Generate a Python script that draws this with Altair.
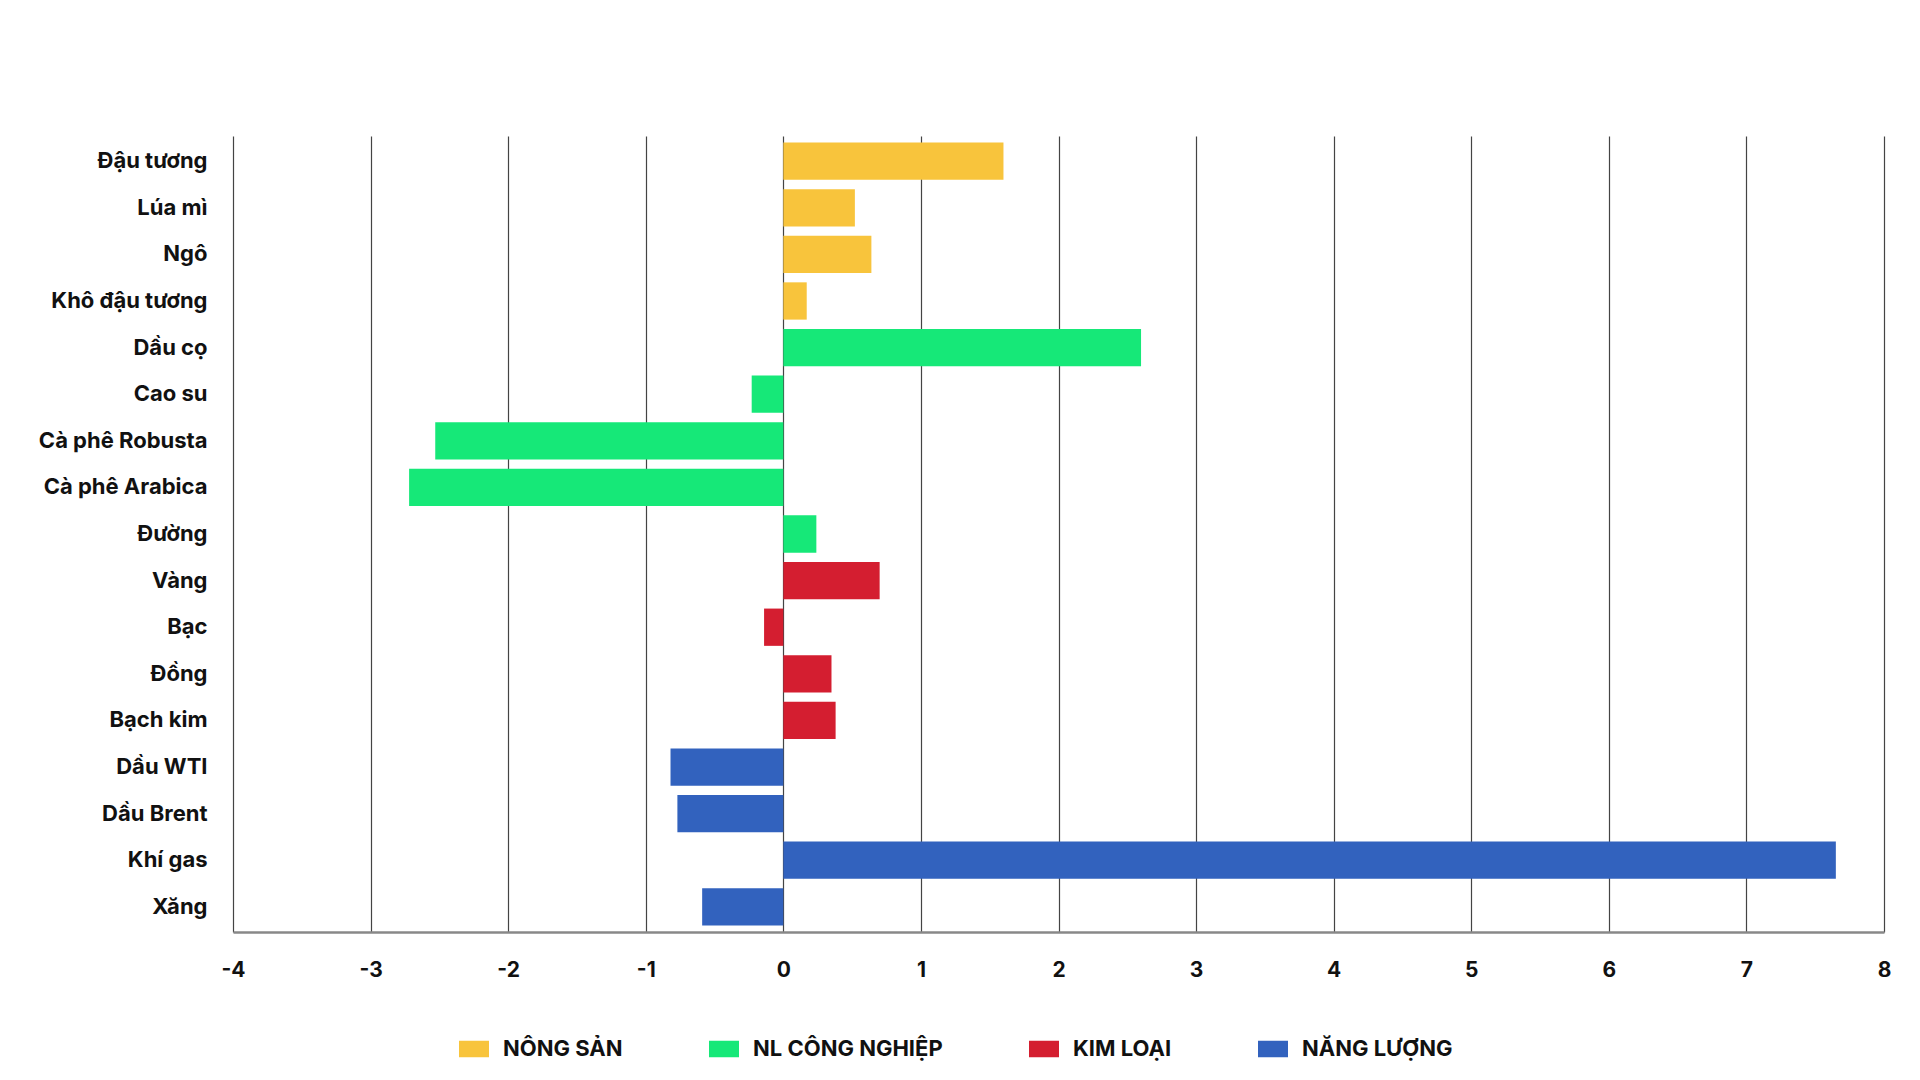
import altair as alt
import pandas as pd

categories = ["Đậu tương", "Lúa mì", "Ngô", "Khô đậu tương", "Dầu cọ", "Cao su",
              "Cà phê Robusta", "Cà phê Arabica", "Đường", "Vàng", "Bạc", "Đồng",
              "Bạch kim", "Dầu WTI", "Dầu Brent", "Khí gas", "Xăng"]
values = [1.60, 0.52, 0.64, 0.17, 2.60, -0.23, -2.53, -2.72, 0.24, 0.70, -0.14,
          0.35, 0.38, -0.82, -0.77, 7.65, -0.59]
groups = ["NÔNG SẢN"] * 4 + ["NL CÔNG NGHIỆP"] * 5 + ["KIM LOẠI"] * 4 + ["NĂNG LƯỢNG"] * 4
group_order = ["NÔNG SẢN", "NL CÔNG NGHIỆP", "KIM LOẠI", "NĂNG LƯỢNG"]
group_colors = ["#F8C43C", "#16E878", "#D41E30", "#3262BE"]
x_ticks = [-4, -3, -2, -1, 0, 1, 2, 3, 4, 5, 6, 7, 8]

df = pd.DataFrame({"cat": categories, "val": values, "grp": groups})

FONT = "Inter"

chart = alt.Chart(df).mark_bar().encode(
    y=alt.Y("cat:N", sort=categories, title=None,
            scale=alt.Scale(paddingInner=0.2, paddingOuter=0.14),
            axis=alt.Axis(labelFont=FONT, labelFontSize=22, labelFontWeight="bold",
                          labelColor="#111", labelPadding=26, ticks=False, domain=False,
                          grid=False, labelLimit=400)),
    x=alt.X("val:Q", title=None,
            scale=alt.Scale(domain=[-4, 8], nice=False),
            axis=alt.Axis(values=x_ticks, labelFont=FONT, labelFontSize=21,
                          labelFontWeight="bold", labelColor="#111", labelPadding=27,
                          labelExpr="toString(datum.value)", labelFlush=False,
                          ticks=False, grid=True, gridColor="#444", gridWidth=1.2,
                          domain=True, domainColor="#888", domainWidth=2.5)),
    color=alt.Color("grp:N", title=None,
                    scale=alt.Scale(domain=group_order, range=group_colors),
                    legend=alt.Legend(orient="none", direction="horizontal",
                                      legendX=226, legendY=898,
                                      labelFont=FONT, labelFontSize=22,
                                      labelFontWeight="bold", labelColor="#111",
                                      labelLimit=400,
                                      symbolType="M-1,-0.55H1V0.55H-1Z",
                                      symbolSize=900, symbolStrokeWidth=0,
                                      columnPadding=86, labelOffset=14)),
).properties(
    width=1651, height=796,
    background="white",
    padding={"left": 225, "top": 128, "right": 20, "bottom": 130},
    autosize=alt.AutoSizeParams(type="none"),
).configure_view(stroke="transparent", strokeWidth=0)

chart.save("out.html", embed_options={"renderer": "svg", "actions": False})
